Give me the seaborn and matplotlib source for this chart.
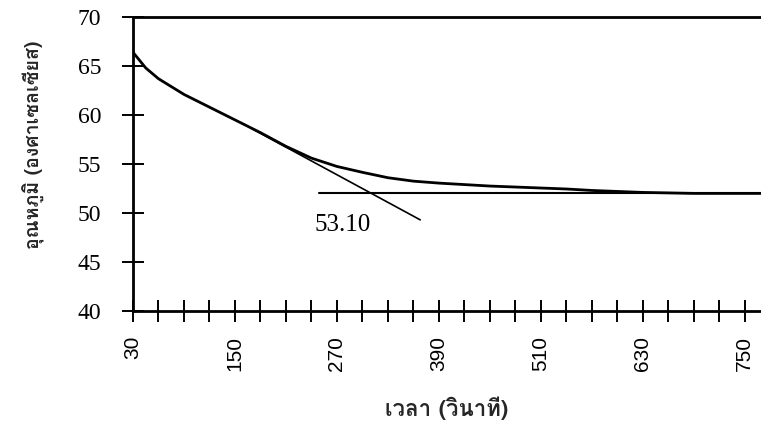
import numpy as np
import pandas as pd
import seaborn as sns
import matplotlib
matplotlib.use("Agg")
import matplotlib.pyplot as plt
from matplotlib import font_manager
from fontTools.ttLib import TTFont

# cooling curve (time in s, temperature in deg C)
time_s = [30, 45, 60, 90, 120, 150, 180, 210, 240, 270, 300, 330, 360, 390, 420,
          450, 480, 510, 540, 570, 600, 630, 660, 690, 720, 750, 780]
temp_c = [66.4, 64.8, 63.7, 62.1, 60.8, 59.5, 58.2, 56.8, 55.6, 54.75, 54.15, 53.6,
          53.25, 53.05, 52.9, 52.75, 52.65, 52.55, 52.45, 52.3, 52.2, 52.1,
          52.05, 52.0, 52.0, 52.0, 52.0]

# tangent and plateau lines
tangent_t = [170, 368]
tangent_T = [58.6, 49.3]
plateau_t = [249, 780]
plateau_T = [52.0, 52.0]

note_text = "53.10"
note_t, note_T = 277, 48.8

x_ticks = list(range(30, 751, 30))
y_ticks = [40, 45, 50, 55, 60, 65, 70]
xlabel = "เวลา (วินาที)"
ylabel = "อุณหภูมิ (องศาเซลเซียส)"

sns.set_theme(style="white")

# look for any installed font that has Thai glyphs
thai_font = None
for f in font_manager.fontManager.ttflist:
    try:
        cmap = TTFont(f.fname, fontNumber=0, lazy=True).getBestCmap()
    except Exception:
        continue
    if cmap and 0x0E2D in cmap:
        thai_font = f.name
        break
fams = [thai_font, "DejaVu Sans"] if thai_font else ["DejaVu Sans"]
plt.rcParams["font.family"] = fams

df = pd.DataFrame({"t": time_s, "T": temp_c})

fig = plt.figure(figsize=(7.61, 4.29), dpi=100)
ax = fig.add_axes([133 / 761, 1 - 311 / 429, (761 - 133) / 761, (311 - 17) / 429])

sns.lineplot(data=df, x="t", y="T", color="black", lw=2, ax=ax)
sns.lineplot(x=tangent_t, y=tangent_T, color="black", lw=1.2, ax=ax)
sns.lineplot(x=plateau_t, y=plateau_T, color="black", lw=1.5, ax=ax)

ax.text(note_t, note_T, note_text, ha="center", va="center", fontsize=18,
        family="Liberation Serif", color="black")

ax.set_xlim(30, 769)
ax.set_ylim(40, 70)
ax.set_xticks(x_ticks)
ax.set_xticklabels([str(t) if (t - 30) % 120 == 0 else "" for t in x_ticks],
                   rotation=90, family="Liberation Sans", fontsize=15)
ax.set_yticks(y_ticks)
ax.set_yticklabels([str(v) for v in y_ticks], family="Liberation Serif", fontsize=17)
ax.tick_params(axis="both", direction="inout", length=16, width=1.4, color="black",
               labelcolor="black", bottom=True, left=True)
ax.tick_params(axis="x", pad=10)
ax.tick_params(axis="y", pad=15)

for s in ["left", "bottom", "top"]:
    ax.spines[s].set_linewidth(2)
    ax.spines[s].set_color("black")
ax.spines["right"].set_visible(False)

ax.set_xlabel(xlabel, fontsize=16, fontweight="bold", family=fams)
ax.set_ylabel(ylabel, fontsize=14, fontweight="bold", family=fams)
ax.xaxis.set_label_coords(0.5, -0.29)
ax.yaxis.set_label_coords(-0.14, 0.565)
ax.grid(False)

fig.savefig("out.png", dpi=100)
